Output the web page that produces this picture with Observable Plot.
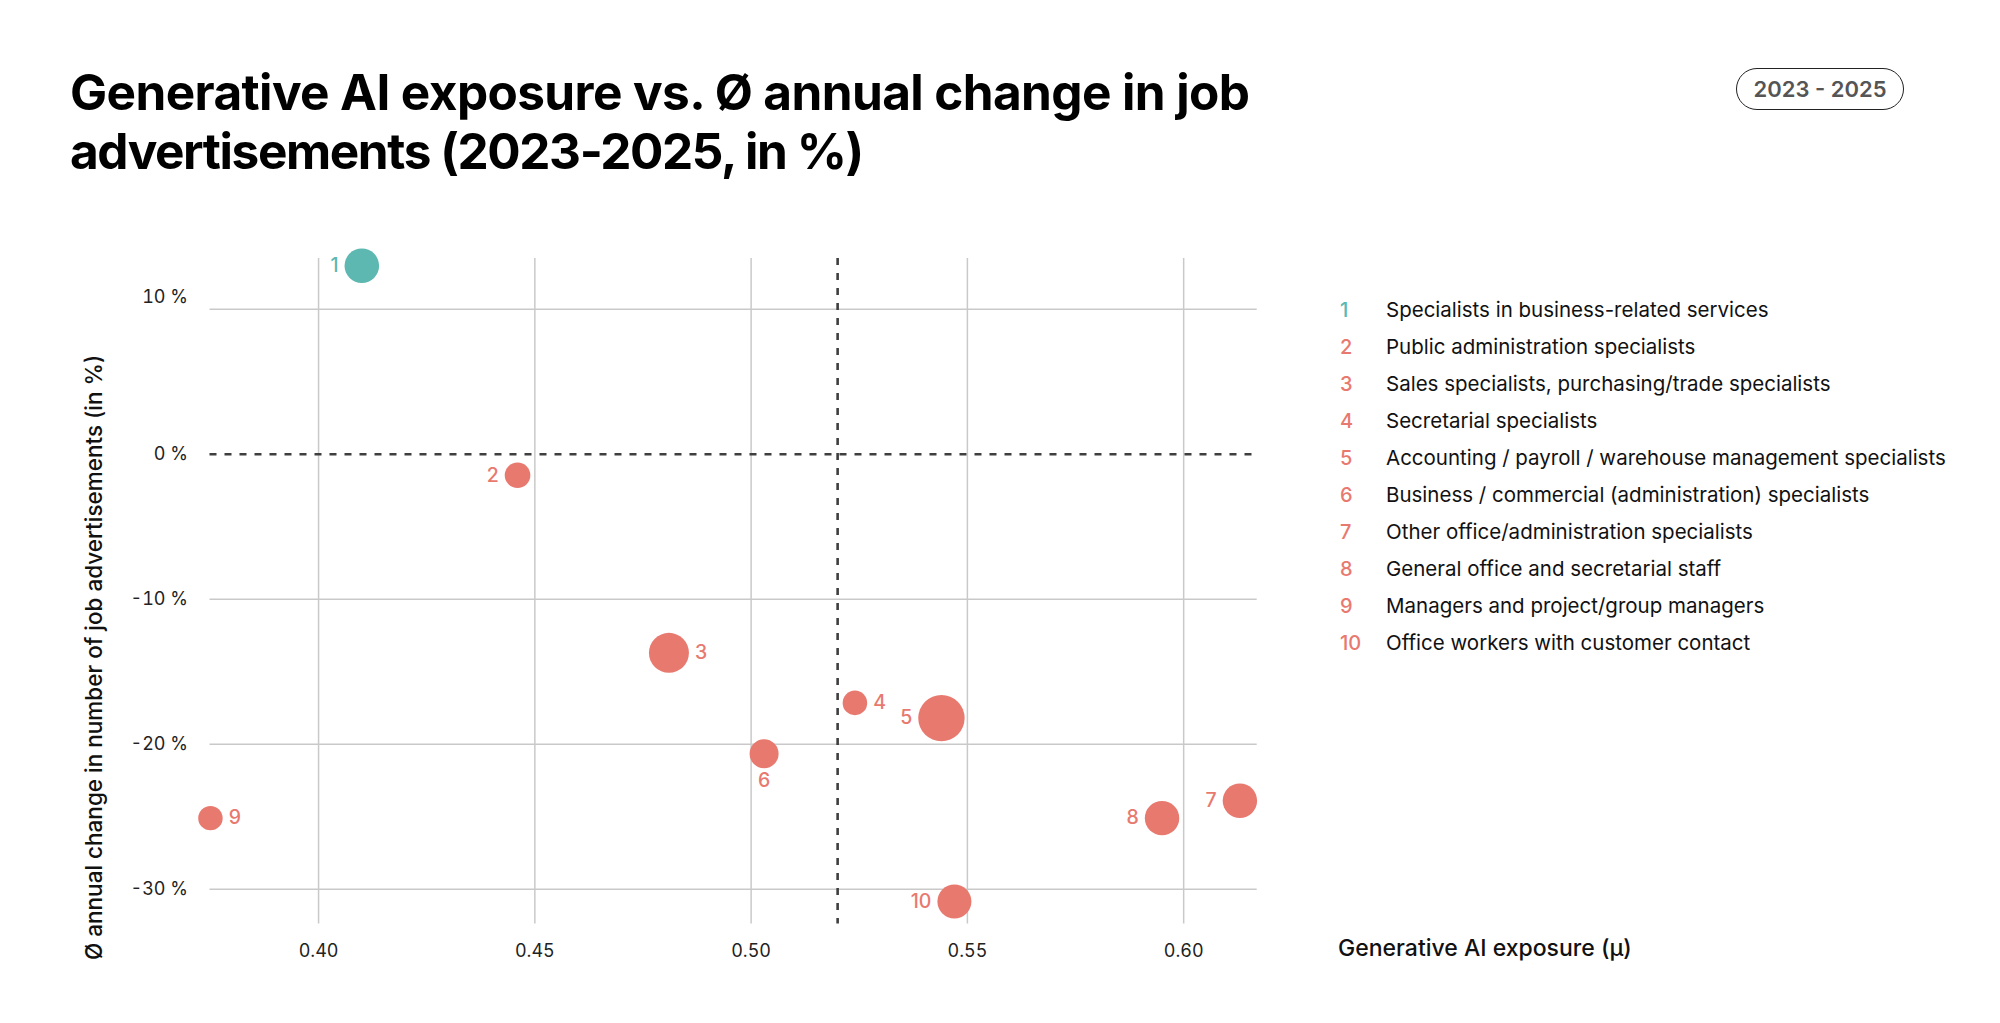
<!DOCTYPE html>
<html>
<head>
<meta charset="utf-8">
<script src="https://cdn.jsdelivr.net/npm/d3@7"></script>
<script src="https://cdn.jsdelivr.net/npm/@observablehq/plot@0.6"></script>
<style>
  html, body { margin: 0; padding: 0; background: #fff; }
  body { width: 2000px; height: 1023px; position: relative; overflow: hidden; font-family: Inter, "Noto Sans", sans-serif; color: #111; }
  #title { position: absolute; left: 70px; top: 63px; font-weight: 700; font-size: 49.5px; line-height: 59px; letter-spacing: -0.6px; color: #000; width: 1300px; }
  #title .l2 { letter-spacing: -1.4px; }
  #badge { position: absolute; left: 1736px; top: 68px; width: 166px; height: 40px; border: 1.5px solid #222; border-radius: 22px; font-weight: 600; font-size: 22px; line-height: 40px; text-align: center; color: #555; }
  #chart { position: absolute; left: 0; top: 200px; }
  #legend { position: absolute; left: 1340px; top: 291px; font-size: 20.5px; }
  #legend .row { white-space: nowrap; height: 37px; line-height: 37px; }
  #legend .num { display: inline-block; width: 46px; font-weight: 500; font-size: 20px; }
  #xtitle { position: absolute; left: 1338px; top: 934px; font-size: 23px; font-weight: 500; white-space: nowrap; color: #111; }
  #ytitle { position: absolute; left: 80px; top: 960px; transform-origin: left top; transform: rotate(-90deg); font-size: 22.5px; font-weight: 500; white-space: nowrap; color: #111; }
</style>
</head>
<body>
<div id="title">Generative AI exposure vs. Ø annual change in job<br><span class="l2">advertisements (2023-2025, in %)</span></div>
<div id="badge">2023 - 2025</div>
<div id="chart"></div>
<div id="legend"></div>
<div id="xtitle">Generative AI exposure (μ)</div>
<div id="ytitle">Ø annual change in number of job advertisements (in %)</div>
<script>
// ---- data ----
const ids = [1, 2, 3, 4, 5, 6, 7, 8, 9, 10];
const occupations = [
  "Specialists in business-related services",
  "Public administration specialists",
  "Sales specialists, purchasing/trade specialists",
  "Secretarial specialists",
  "Accounting / payroll / warehouse management specialists",
  "Business / commercial (administration) specialists",
  "Other office/administration specialists",
  "General office and secretarial staff",
  "Managers and project/group managers",
  "Office workers with customer contact"
];
const exposure = [0.410, 0.446, 0.481, 0.524, 0.544, 0.503, 0.613, 0.595, 0.375, 0.547];
const annualChange = [13.0, -1.45, -13.7, -17.15, -18.2, -20.65, -23.9, -25.1, -25.1, -30.85];
const bubbleSize = [299, 164, 400, 151, 538, 210, 296, 296, 149, 289];
const meanExposure = 0.52;
const xTicks = [0.40, 0.45, 0.50, 0.55, 0.60];
const yTicks = [10, 0, -10, -20, -30];

// ---- presentation ----
const teal = "#5cb8b1", salmon = "#e8796f";
const labelSide = {1: "left", 2: "left", 3: "right", 4: "right", 5: "left", 6: "below", 7: "left", 8: "left", 9: "right", 10: "left"};

const data = ids.map((id, i) => ({
  id, name: occupations[i], x: exposure[i], y: annualChange[i], size: bubbleSize[i],
  trend: annualChange[i] >= 0 ? "increase" : "decrease"
}));

const rMax = 23.2;
const rDomainMax = d3.max(bubbleSize);
const rScale = d3.scaleSqrt().domain([0, rDomainMax]).range([0, rMax]);
const gap = 6;

const labelMarks = data.map(d => {
  const side = labelSide[d.id];
  const r = rScale(d.size);
  const opts = {x: "x", y: "y", text: d => String(d.id), fill: d.trend === "increase" ? teal : salmon,
    fontSize: 19.5, fontWeight: 500};
  if (side === "left") Object.assign(opts, {textAnchor: "end", dx: -(r + gap)});
  else if (side === "right") Object.assign(opts, {textAnchor: "start", dx: r + gap});
  else Object.assign(opts, {textAnchor: "middle", dy: r + 13});
  return Plot.text([d], opts);
});

const chart = Plot.plot({
  width: 1300,
  height: 823,
  marginLeft: 209.5,
  marginRight: 43.3,
  marginTop: 58,
  marginBottom: 99.5,
  style: {fontFamily: "Inter, 'Noto Sans', sans-serif", fontSize: "18px", color: "#222", background: "transparent"},
  x: {domain: [0.3749, 0.617]},
  y: {domain: [-32.4, 13.5]},
  r: {type: "sqrt", domain: [0, rDomainMax], range: [0, rMax]},
  color: {domain: ["increase", "decrease"], range: [teal, salmon]},
  marks: [
    Plot.gridX(xTicks, {stroke: "#c9c9c9", strokeOpacity: 1, strokeWidth: 1.5}),
    Plot.gridY(yTicks.filter(t => t !== 0), {stroke: "#c9c9c9", strokeOpacity: 1, strokeWidth: 1.5}),
    Plot.ruleY([0], {stroke: "#3f3f3f", strokeWidth: 2.6, strokeDasharray: "7,8"}),
    Plot.ruleX([meanExposure], {stroke: "#3f3f3f", strokeWidth: 2.6, strokeDasharray: "7,8"}),
    Plot.axisX({ticks: xTicks, tickFormat: d3.format(".2f"), tickSize: 0, tickPadding: 20, label: null, fill: "#222"}),
    Plot.axisY({ticks: yTicks.filter(t => t !== 10), tickFormat: d => `${d} %`, tickSize: 0, tickPadding: 22, label: null, fill: "#222"}),
    Plot.axisY({ticks: [10], tickFormat: d => `${d} %`, tickSize: 0, tickPadding: 22, label: null, fill: "#222", dy: -12}),
    Plot.dot(data, {x: "x", y: "y", r: "size", fill: "trend", stroke: null}),
    ...labelMarks
  ]
});
document.getElementById("chart").appendChild(chart);

// legend
const legend = document.getElementById("legend");
data.forEach(d => {
  const row = document.createElement("div");
  row.className = "row";
  const num = document.createElement("span");
  num.className = "num";
  num.textContent = d.id;
  num.style.color = d.trend === "increase" ? teal : salmon;
  const txt = document.createElement("span");
  txt.textContent = d.name;
  row.appendChild(num);
  row.appendChild(txt);
  legend.appendChild(row);
});
</script>
</body>
</html>
